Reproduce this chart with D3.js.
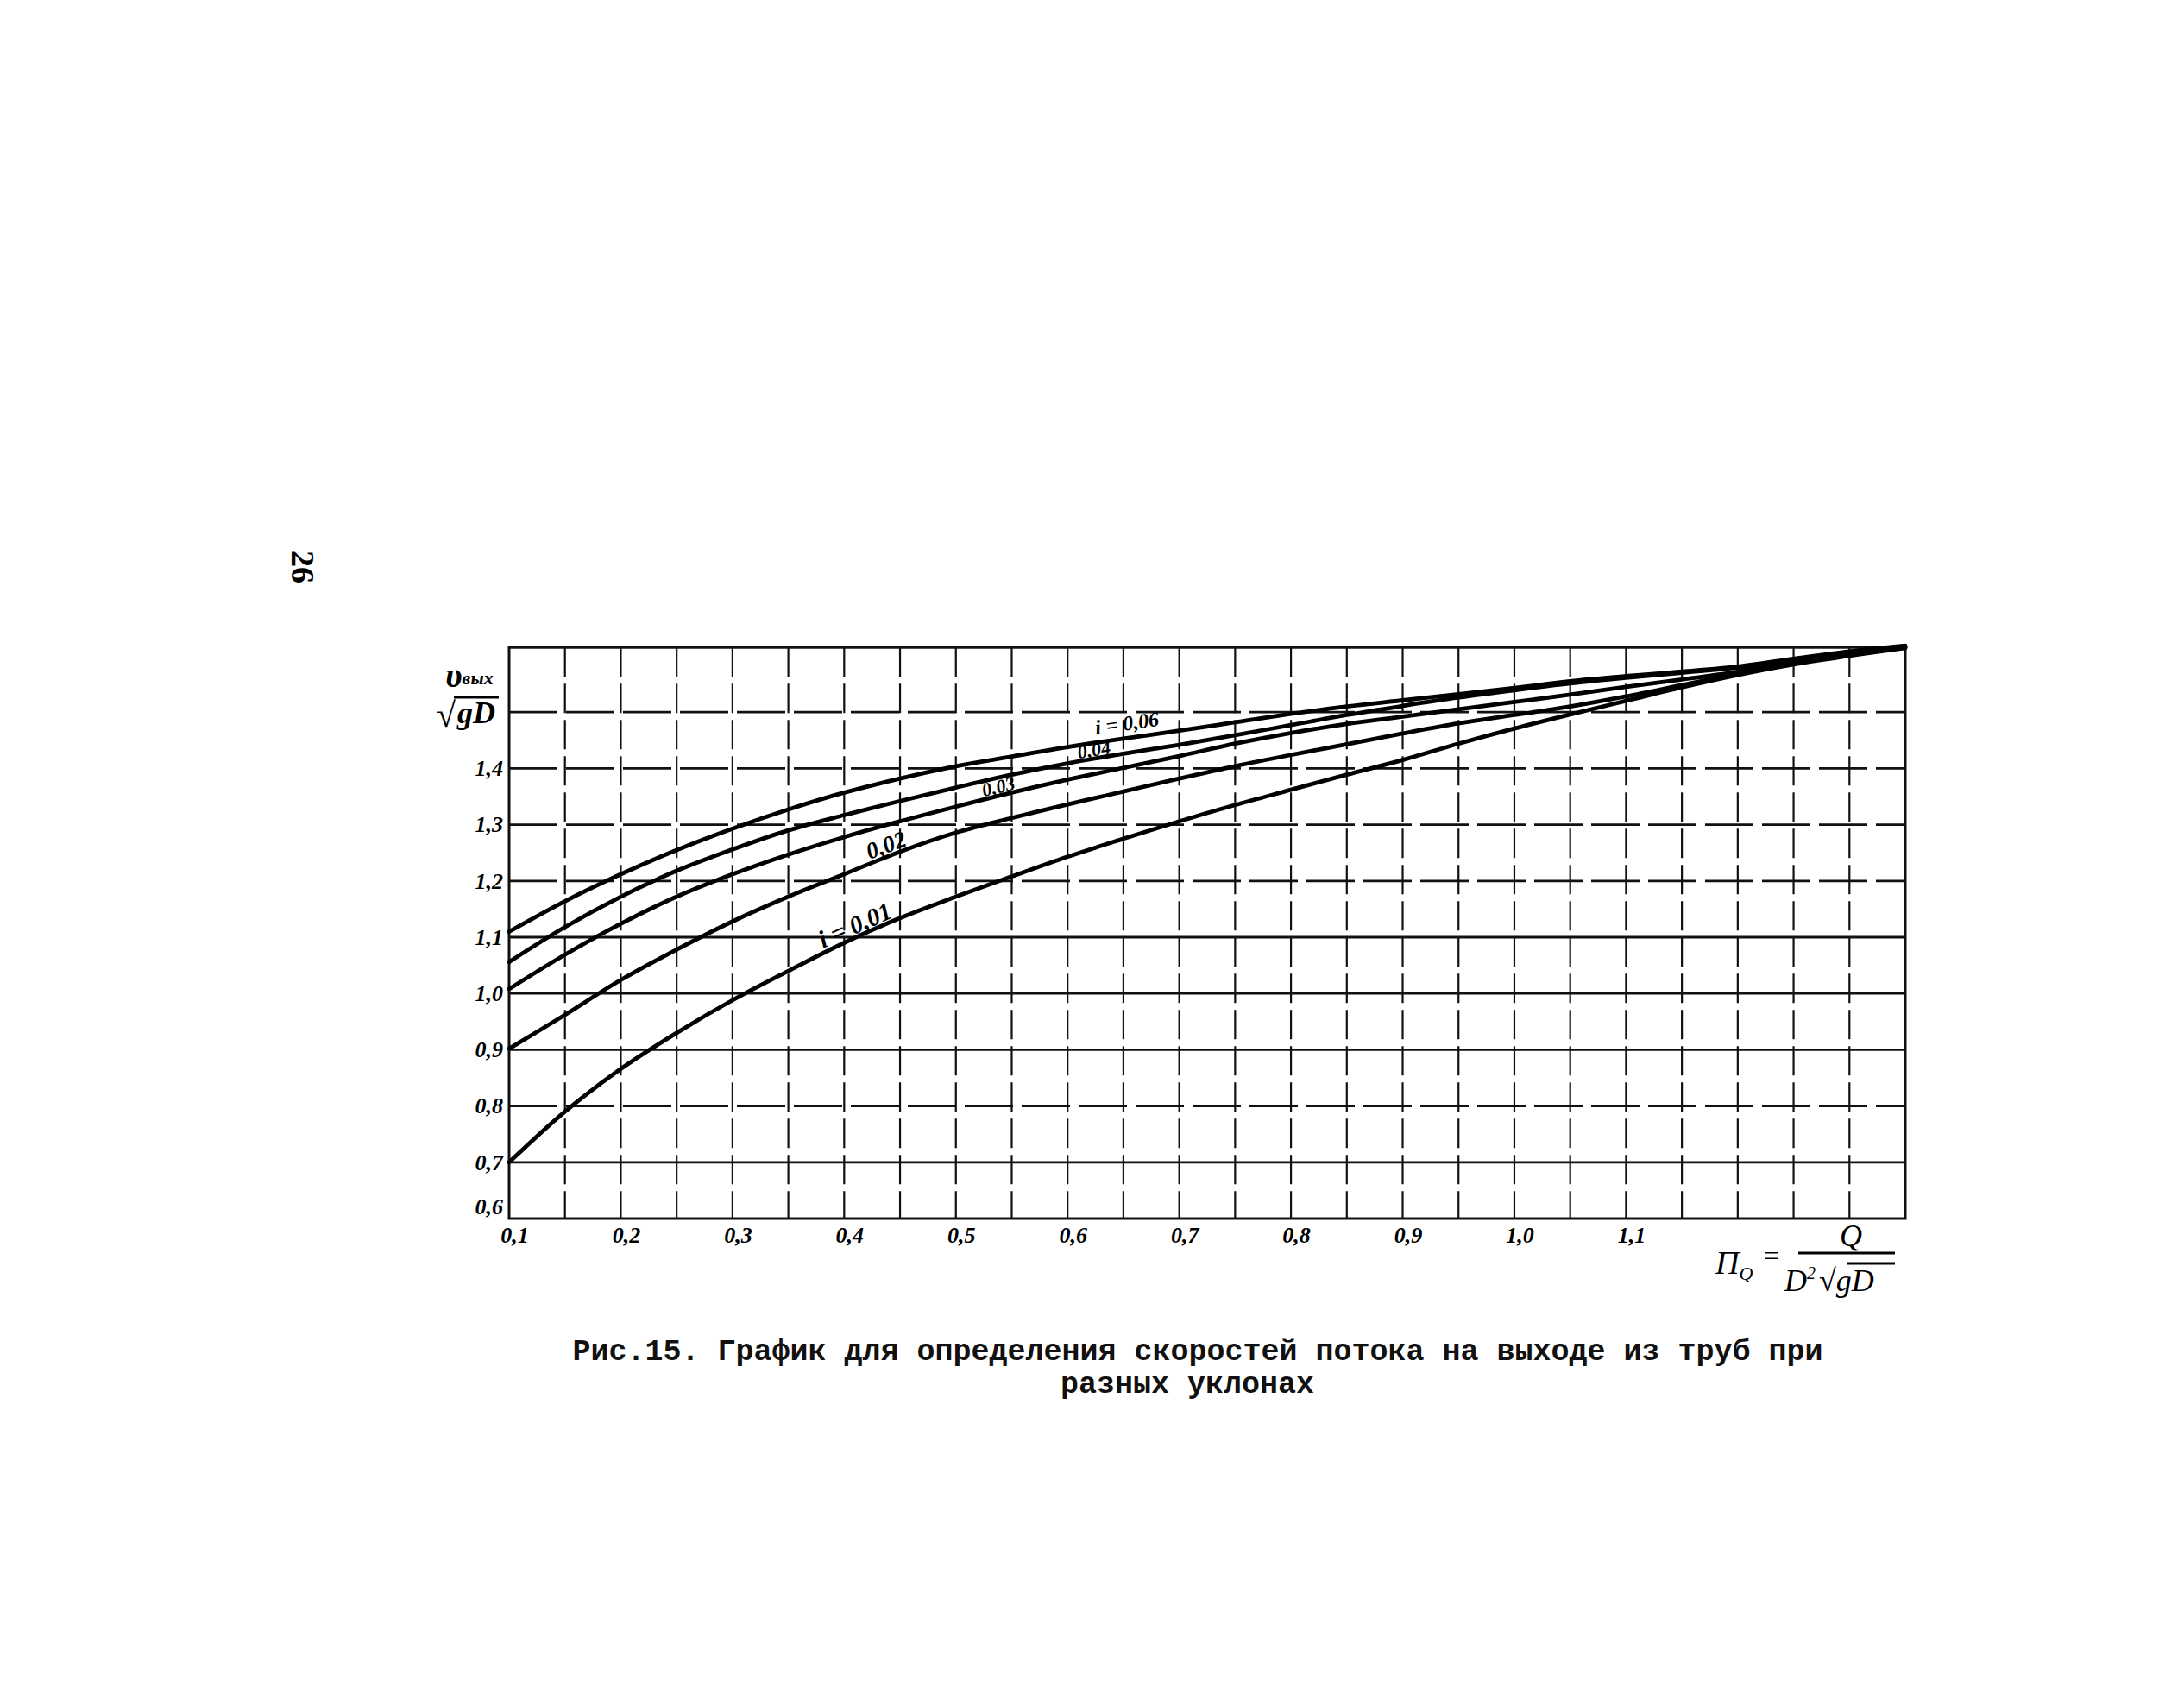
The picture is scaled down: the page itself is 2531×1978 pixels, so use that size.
<!DOCTYPE html>
<html><head><meta charset="utf-8">
<script src="https://cdn.jsdelivr.net/npm/d3@7"></script>
<style>body{margin:0;background:#fff}svg{display:block}</style>
</head><body>
<script>
// ---- data ----
const qValues = [0.10,0.15,0.20,0.25,0.30,0.35,0.40,0.45,0.50,0.55,0.60,0.65,0.70,0.75,0.80,0.85,0.90,0.95,1.00,1.05,1.10,1.15,1.20,1.25,1.30,1.35];
const slopeNames = ["i = 0,01","0,02","0,03","0,04","i = 0,06"];
const vSlope001 = [0.700,0.790,0.866,0.930,0.988,1.040,1.090,1.134,1.172,1.208,1.243,1.275,1.306,1.335,1.362,1.389,1.415,1.444,1.471,1.496,1.520,1.544,1.566,1.585,1.600,1.614];
const vSlope002 = [0.902,0.962,1.024,1.078,1.128,1.172,1.212,1.252,1.286,1.312,1.336,1.359,1.382,1.404,1.424,1.443,1.462,1.480,1.495,1.510,1.528,1.548,1.568,1.587,1.602,1.615];
const vSlope003 = [1.008,1.069,1.124,1.172,1.212,1.247,1.278,1.306,1.332,1.357,1.380,1.401,1.422,1.444,1.463,1.479,1.492,1.505,1.518,1.531,1.545,1.558,1.572,1.589,1.604,1.616];
const vSlope004 = [1.056,1.118,1.172,1.218,1.256,1.290,1.317,1.342,1.366,1.389,1.409,1.426,1.442,1.459,1.477,1.495,1.511,1.526,1.539,1.551,1.561,1.570,1.579,1.592,1.606,1.617];
const vSlope006 = [1.110,1.164,1.212,1.255,1.293,1.327,1.357,1.382,1.404,1.421,1.438,1.453,1.467,1.482,1.497,1.510,1.521,1.532,1.543,1.555,1.564,1.572,1.581,1.595,1.608,1.618];
const labelAtQ = [0.414,0.441,0.540,0.625,0.655];
const yTickValues = [0.6,0.7,0.8,0.9,1.0,1.1,1.2,1.3,1.4];
const xTickValues = [0.1,0.2,0.3,0.4,0.5,0.6,0.7,0.8,0.9,1.0,1.1];
const hGridValues = [0.7,0.8,0.9,1.0,1.1,1.2,1.3,1.4,1.5];
const hGridDashed = [0.8,1.2,1.3,1.4,1.5];
const vGridValues = [0.15,0.2,0.25,0.3,0.35,0.4,0.45,0.5,0.55,0.6,0.65,0.7,0.75,0.8,0.85,0.9,0.95,1.0,1.05,1.1,1.15,1.2,1.25,1.3];
const xDomain = [0.1, 1.35];
const yBottom = 0.6, yTop = 1.615;
const captionLines = ["Рис.15. График для определения скоростей потока на выходе из труб при","разных уклонах"];
const pageNumber = "26";

const series = [vSlope001,vSlope002,vSlope003,vSlope004,vSlope006];

// ---- drawing ----
const W = 2531, H = 1978;
const svg = d3.select("body").append("svg").attr("width",W).attr("height",H);
svg.append("rect").attr("width",W).attr("height",H).attr("fill","#fff");

const x = d3.scaleLinear().domain(xDomain).range([590, 2208]);
const y = d3.scaleLinear().domain([0.6, 1.6]).range([1412, 760]);
const fmt = v => d3.format(".1f")(v).replace(".", ",");
const hand = "'Liberation Serif', 'DejaVu Serif', serif";

const g = svg.append("g");

// grid
g.selectAll(".vg").data(vGridValues).join("line")
  .attr("x1", d=>x(d)).attr("x2", d=>x(d))
  .attr("y1", y(yTop)).attr("y2", y(yBottom))
  .attr("stroke","#111").attr("stroke-width",2.2)
  .attr("stroke-dasharray","34,8");
g.selectAll(".hg").data(hGridValues).join("line")
  .attr("x1", x(xDomain[0])).attr("x2", x(xDomain[1]))
  .attr("y1", d=>y(d)).attr("y2", d=>y(d))
  .attr("stroke","#111").attr("stroke-width",2.8)
  .attr("stroke-dasharray", d => hGridDashed.includes(d) ? "56,10" : null);

// frame
g.append("rect")
  .attr("x", x(xDomain[0])).attr("y", y(yTop))
  .attr("width", x(xDomain[1]) - x(xDomain[0]))
  .attr("height", y(yBottom) - y(yTop))
  .attr("fill","none").attr("stroke","#111").attr("stroke-width",3);

// curves
const line = d3.line().x((d,i)=>x(qValues[i])).y(d=>y(d)).curve(d3.curveCatmullRom.alpha(0.5));
g.selectAll(".curve").data(series).join("path")
  .attr("d", line).attr("fill","none")
  .attr("stroke","#000").attr("stroke-width",4.8)
  .attr("stroke-linecap","round");

// curve labels
function valAt(arr, q){
  const i = Math.min(qValues.length-2, d3.bisectRight(qValues, q)-1);
  const t = (q - qValues[i])/(qValues[i+1]-qValues[i]);
  return arr[i] + t*(arr[i+1]-arr[i]);
}
const lblSizes = [29,27,22,22,24];
const lblOffsets = [4,4,3,3,9];
slopeNames.forEach((name, k) => {
  const q = labelAtQ[k];
  const px = x(q), py = y(valAt(series[k], q));
  const px2 = x(q+0.02), py2 = y(valAt(series[k], q+0.02));
  const ang = Math.atan2(py2-py, px2-px) * 180/Math.PI;
  g.append("text")
    .attr("transform", `translate(${px},${py}) rotate(${ang}) translate(0,${-lblOffsets[k]})`)
    .attr("text-anchor","middle")
    .attr("font-family", hand).attr("font-style","italic").attr("font-weight","bold")
    .attr("font-size", lblSizes[k]).attr("fill","#000")
    .text(name);
});

// axes (labels only)
const yAxis = d3.axisLeft(y).tickValues(yTickValues).tickSize(0).tickPadding(7).tickFormat(fmt);
const ya = svg.append("g").attr("transform", `translate(${x(xDomain[0])},0)`).call(yAxis);
ya.select(".domain").remove();
ya.selectAll("text").attr("font-family", hand).attr("font-style","italic")
  .attr("font-weight","bold").attr("font-size",26).attr("fill","#000");
ya.selectAll(".tick").filter(d=>d===0.6).select("text").attr("dy","-0.2em");

const xAxis = d3.axisBottom(x).tickValues(xTickValues).tickSize(0).tickPadding(10).tickFormat(fmt);
const xa = svg.append("g").attr("transform", `translate(0,${y(yBottom)})`).call(xAxis);
xa.select(".domain").remove();
xa.selectAll("text").attr("font-family", hand).attr("font-style","italic")
  .attr("font-weight","bold").attr("font-size",26).attr("fill","#000")
  .attr("dx", 6);

// y axis title: v_вых / sqrt(gD)
const yt = svg.append("g").attr("font-family", hand).attr("font-style","italic").attr("font-weight","bold").attr("fill","#000");
const num = yt.append("text").attr("x", 516).attr("y", 796).attr("font-size", 40);
num.append("tspan").text("υ");
num.append("tspan").attr("font-size",22).attr("dy",-3).text("вых");
yt.append("text").attr("x", 506).attr("y", 842).attr("font-size", 40).attr("font-style","normal").text("√");
yt.append("text").attr("x", 530).attr("y", 838).attr("font-size", 36).text("gD");
yt.append("line").attr("x1",526).attr("x2",578).attr("y1",808).attr("y2",808).attr("stroke","#000").attr("stroke-width",3);

// x axis formula: П_Q = Q / (D² √gD)
const xf = svg.append("g").attr("font-family", hand).attr("font-style","italic").attr("fill","#000");
const pq = xf.append("text").attr("x", 1988).attr("y", 1476).attr("font-size", 38);
pq.append("tspan").text("П");
pq.append("tspan").attr("font-size",22).attr("dy",7).text("Q");
xf.append("text").attr("x", 2044).attr("y", 1466).attr("font-size", 32).attr("font-style","normal").text("=");
xf.append("text").attr("x", 2145).attr("y", 1444).attr("text-anchor","middle").attr("font-size", 36).text("Q");
xf.append("line").attr("x1",2084).attr("x2",2196).attr("y1",1452).attr("y2",1452).attr("stroke","#000").attr("stroke-width",3);
const den = xf.append("text").attr("x", 2068).attr("y", 1496).attr("font-size", 36);
den.append("tspan").text("D");
den.append("tspan").attr("font-size",20).attr("dy",-14).text("2");
den.append("tspan").attr("dy",14).attr("font-style","normal").attr("dx",4).text("√");
den.append("tspan").text("gD");
xf.append("line").attr("x1",2140).attr("x2",2196).attr("y1",1464).attr("y2",1464).attr("stroke","#000").attr("stroke-width",3);

// caption
const cap = svg.append("g").attr("font-family","'Liberation Mono','DejaVu Sans Mono',monospace")
  .attr("font-weight","bold").attr("font-size",35).attr("fill","#111").attr("text-anchor","middle");
cap.append("text").attr("x",1388).attr("y",1576).text(captionLines[0]);
cap.append("text").attr("x",1376).attr("y",1614).text(captionLines[1]);

// page number (rotated)
svg.append("text").attr("transform","translate(338,657) rotate(90)")
  .attr("text-anchor","middle").attr("font-family",hand).attr("font-weight","bold")
  .attr("font-size",38).attr("fill","#000").text(pageNumber);
</script>
</body></html>
